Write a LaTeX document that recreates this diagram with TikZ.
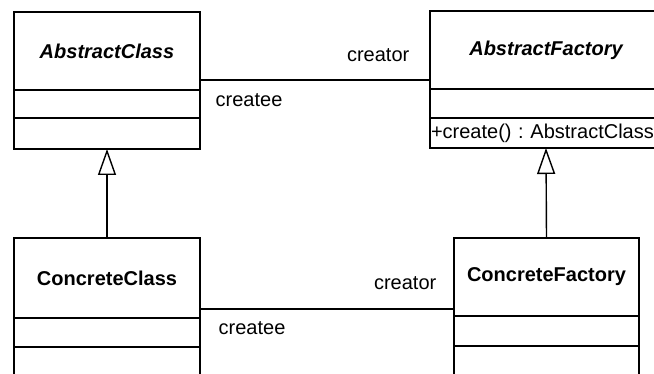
\documentclass[tikz,border=0pt]{standalone}
\usepackage{fontspec}
\setmainfont{Liberation Sans}
\usepackage{tikz}
\usetikzlibrary{arrows.meta,positioning}
\tikzset{
  uml diagram/.style={x=1pt, y=-1pt, font=\fontsize{20}{24}\selectfont,
    line join=miter},
  uml head/.style={draw, line width=1.8pt, rectangle, inner sep=0pt,
    outer sep=0pt, font=\fontsize{20}{24}\selectfont\bfseries},
  uml part/.style={draw, line width=1.8pt, rectangle, inner sep=1pt,
    outer sep=0pt},
  uml inherit/.style={-{Triangle[open,length=26pt,width=18pt,line width=1.4pt]},
    line width=1.4pt},
  uml assoc/.style={line width=1.4pt},
  uml role/.style={inner sep=0pt}
}
\begin{document}
\begin{tikzpicture}[uml diagram]
\useasboundingbox (0,0) rectangle (654,374);
\clip (0,0) rectangle (654,374);
\node[uml head, minimum width=186pt, minimum height=78pt] (absClass) at (107,51) {\itshape AbstractClass};
\node[uml part, minimum width=186pt, minimum height=28pt, below=0pt of absClass] (absClassAttr) {};
\node[uml part, minimum width=186pt, minimum height=31pt, below=0pt of absClassAttr] (absClassOps) {};

\node[uml head, minimum width=232pt, minimum height=78pt] (absFactory) at (546,50) {\itshape AbstractFactory};
\node[uml part, minimum width=232pt, minimum height=29pt, below=0pt of absFactory] (absFactoryAttr) {};
\node[uml part, minimum width=232pt, minimum height=30pt, text width=230pt, align=left,
  below=0pt of absFactoryAttr] (absFactoryOps) {+create() :\ AbstractClass};

\node[uml head, minimum width=186pt, minimum height=80pt] (conClass) at (107,278) {ConcreteClass};
\node[uml part, minimum width=186pt, minimum height=29pt, below=0pt of conClass] (conClassAttr) {};
\node[uml part, minimum width=186pt, minimum height=36pt, below=0pt of conClassAttr] (conClassOps) {};

\node[uml head, minimum width=185pt, minimum height=78pt] (conFactory) at (546.5,277) {ConcreteFactory};
\node[uml part, minimum width=185pt, minimum height=30pt, below=0pt of conFactory] (conFactoryAttr) {};
\node[uml part, minimum width=185pt, minimum height=36pt, below=0pt of conFactoryAttr] (conFactoryOps) {};

\coordinate (topLink) at ([yshift=-29pt]absClass.east);
\coordinate (bottomLink) at ([yshift=-31pt]conClass.east);
\draw[uml assoc] (topLink) -- (topLink -| absFactory.west)
  node[uml role, pos=0, anchor=base west, xshift=15pt, yshift=-27pt] (topCreatee) {createe}
  node[uml role, pos=1, anchor=base east, xshift=-20pt, yshift=18pt] (topCreator) {creator};
\draw[uml assoc] (bottomLink) -- (bottomLink -| conFactory.west)
  node[uml role, pos=0, anchor=base west, xshift=18pt, yshift=-26pt] (bottomCreatee) {createe}
  node[uml role, pos=1, anchor=base east, xshift=-17pt, yshift=19pt] (bottomCreator) {creator};

\draw[uml inherit] (conClass.north) -- (absClassOps.south);
\draw[uml inherit] (conFactory.north) -- (absFactoryOps.south);
\end{tikzpicture}
\end{document}
